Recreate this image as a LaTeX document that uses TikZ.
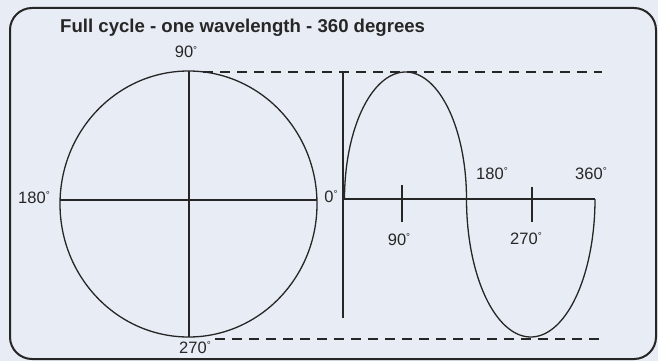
\documentclass[tikz,border=0pt]{standalone}
\usepackage{fontspec}
\setmainfont{Liberation Sans}
\newcommand\dg{\raisebox{0.3em}{\fontsize{10}{10}\selectfont °}}
\definecolor{bgc}{HTML}{E8EDF5}
\definecolor{ink}{HTML}{262626}
\begin{document}
\begin{tikzpicture}[x=1pt,y=-1pt,
  lbl/.style={anchor=base,inner sep=0pt,font=\fontsize{16.5}{16.5}\selectfont,text=ink},
  ln/.style={draw=ink,line width=1.3pt},
  dsh/.style={draw=ink,line width=1.3pt,dash pattern=on 10pt off 7pt}]
\fill[bgc] (0,0) rectangle (658,361);
\useasboundingbox (0,0) rectangle (658,361);
\draw[ink,line width=2pt,rounded corners=22pt] (10,8) rectangle (656,359);
% title
\node[anchor=base west,inner sep=0pt,font=\bfseries\fontsize{18.6}{18.6}\selectfont,text=ink] (title) at (60,33) {Full cycle - one wavelength - 360 degrees};
% circle
\coordinate (ctr) at (188.5,204);
\draw[ln] (ctr) ellipse [x radius=128.5, y radius=133];
\coordinate (cl) at (60,200);
\coordinate (cr) at (317,200);
\coordinate (ct) at (189,71);
\coordinate (cb) at (189,337);
\draw[ln] (cl) -- (cr);
\draw[ln] (ct) -- (cb);
% dashed guides
\coordinate (dt1) at (203,72);
\coordinate (dt2) at (602,72);
\coordinate (db1) at (215,339);
\coordinate (db2) at (604,339);
\draw[dsh] (dt1) -- (dt2);
\draw[dsh] (db1) -- (db2);
% axes
\coordinate (va) at (343,72);
\coordinate (vb) at (343,318);
\coordinate (ha) at (343,199);
\coordinate (hb) at (595,199);
\draw[ln] (va) -- (vb);
\draw[ln] (ha) -- (hb);
% ticks
\coordinate (t1a) at (402,185);
\coordinate (t1b) at (402,222);
\coordinate (t2a) at (532,187);
\coordinate (t2b) at (532,222);
\draw[ln] (t1a) -- (t1b);
\draw[ln] (t2a) -- (t2b);
% wave
\draw[ln] plot[domain=180:360,samples=80,smooth] ({405.5+61*cos(\x)},{199+127*sin(\x)});
\draw[ln] plot[domain=180:0,samples=80,smooth] ({530.75+64.25*cos(\x)},{199+138*sin(\x)});
% labels
\node[lbl] (l90) at (186,58) {90\dg};
\node[lbl] (l180) at (34,203) {180\dg};
\node[lbl] (l0) at (331,202) {0\dg};
\node[lbl] (l270) at (195,353) {270\dg};
\node[lbl] (w180) at (492,179) {180\dg};
\node[lbl] (w360) at (591,179) {360\dg};
\node[lbl] (w90) at (399,245) {90\dg};
\node[lbl] (w270) at (526,244) {270\dg};
\end{tikzpicture}
\end{document}
